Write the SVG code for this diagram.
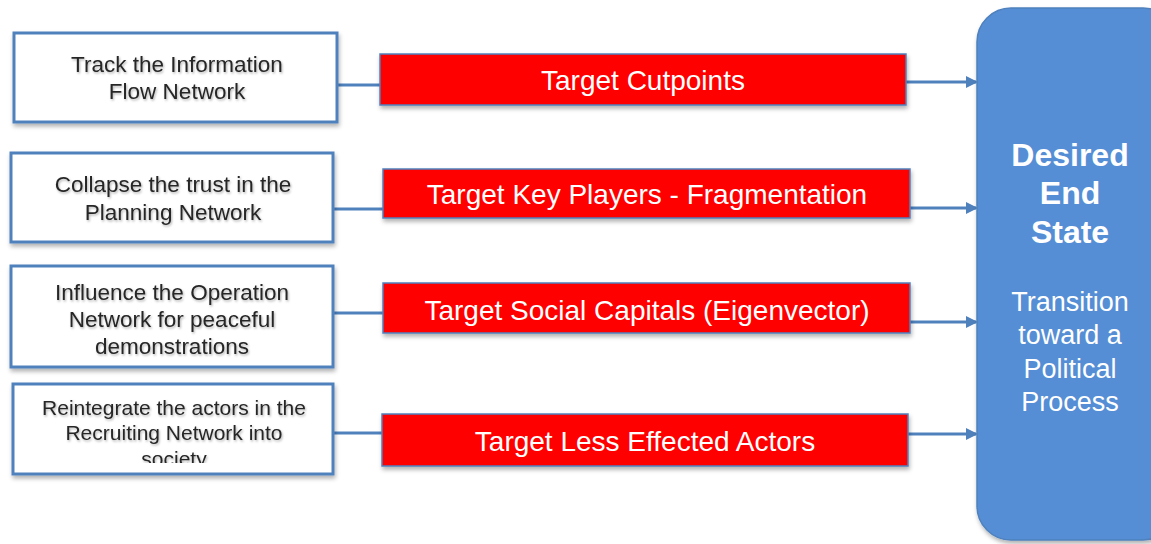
<svg xmlns="http://www.w3.org/2000/svg" width="1151" height="544" viewBox="0 0 1151 544">
<style>
.lbox{fill:#ffffff;stroke:#4f81bd;stroke-width:3}
.rbox{fill:#ff0000;stroke:#4f81bd;stroke-width:1.5}
.ltxt{font-family:"Liberation Sans",Arial,sans-serif;font-size:22.5px;fill:#262626;text-anchor:middle}
.rtxt{font-family:"Liberation Sans",Arial,sans-serif;font-size:28px;fill:#ffffff;text-anchor:middle}
.conn{stroke:#4f81bd;stroke-width:3;fill:none}
.big{font-family:"Liberation Sans",Arial,sans-serif;font-size:32px;font-weight:bold;fill:#ffffff;text-anchor:middle}
.sub{font-family:"Liberation Sans",Arial,sans-serif;font-size:27px;fill:#ffffff;text-anchor:middle}
</style>
<defs>
<filter id="sh" x="-10%" y="-10%" width="120%" height="130%">
<feDropShadow dx="1" dy="3" stdDeviation="2" flood-color="#000" flood-opacity="0.3"/>
</filter>
<filter id="tsh" x="-10%" y="-20%" width="120%" height="150%">
<feDropShadow dx="1" dy="1.5" stdDeviation="1" flood-color="#000" flood-opacity="0.3"/>
</filter>
<marker id="ah" markerWidth="12" markerHeight="12" refX="10" refY="6" orient="auto" markerUnits="userSpaceOnUse">
<path d="M0,0 L12,6 L0,12 Z" fill="#4f81bd"/>
</marker>
<clipPath id="c4"><rect x="14" y="385" width="318" height="78"/></clipPath>
</defs>
<rect width="1151" height="544" fill="#ffffff"/>
<g id="connectors">
<line class="conn" x1="337" y1="85" x2="380" y2="85"/>
<line class="conn" x1="333" y1="209" x2="383" y2="209"/>
<line class="conn" x1="333" y1="313" x2="383" y2="313"/>
<line class="conn" x1="333" y1="433" x2="382" y2="433"/>
<line class="conn" x1="906" y1="82" x2="976" y2="82" marker-end="url(#ah)"/>
<line class="conn" x1="910" y1="208" x2="976" y2="208" marker-end="url(#ah)"/>
<line class="conn" x1="910" y1="322" x2="976" y2="322" marker-end="url(#ah)"/>
<line class="conn" x1="908" y1="434" x2="976" y2="434" marker-end="url(#ah)"/>
</g>
<g id="n1">
<rect class="lbox" x="14" y="33" width="323" height="89" filter="url(#sh)"/>
<g filter="url(#tsh)"><text class="ltxt" x="177" y="72">Track the Information</text>
<text class="ltxt" x="177" y="99">Flow Network</text></g>
</g>
<g id="n2">
<rect class="lbox" x="11" y="153" width="322" height="89" filter="url(#sh)"/>
<g filter="url(#tsh)"><text class="ltxt" x="173" y="192">Collapse the trust in the</text>
<text class="ltxt" x="173" y="220">Planning Network</text></g>
</g>
<g id="n3">
<rect class="lbox" x="11" y="266" width="322" height="101" filter="url(#sh)"/>
<g filter="url(#tsh)"><text class="ltxt" x="172" y="300">Influence the Operation</text>
<text class="ltxt" x="172" y="327">Network for peaceful</text>
<text class="ltxt" x="172" y="354">demonstrations</text></g>
</g>
<g id="n4">
<rect class="lbox" x="13" y="384" width="320" height="90" filter="url(#sh)"/>
<g filter="url(#tsh)" clip-path="url(#c4)"><text class="ltxt" x="174" y="415" style="font-size:21px">Reintegrate the actors in the</text>
<text class="ltxt" x="174" y="440" style="font-size:21px">Recruiting Network into</text>
<text class="ltxt" x="174" y="466" style="font-size:21px">society</text></g>
</g>
<g id="r1">
<rect class="rbox" x="380" y="54" width="526" height="51" filter="url(#sh)"/>
<text class="rtxt" x="643" y="90">Target Cutpoints</text>
</g>
<g id="r2">
<rect class="rbox" x="383" y="169" width="527" height="49" filter="url(#sh)"/>
<text class="rtxt" x="647" y="204">Target Key Players - Fragmentation</text>
</g>
<g id="r3">
<rect class="rbox" x="383" y="283" width="527" height="50" filter="url(#sh)"/>
<text class="rtxt" x="647" y="320">Target Social Capitals (Eigenvector)</text>
</g>
<g id="r4">
<rect class="rbox" x="382" y="414" width="526" height="52" filter="url(#sh)"/>
<text class="rtxt" x="645" y="451">Target Less Effected Actors</text>
</g>
<g id="end">
<rect x="977" y="8" width="200" height="532" rx="34" ry="34" fill="#558ed5" stroke="#4f81bd" stroke-width="1.5" filter="url(#sh)"/>
<text class="big" x="1070" y="166">Desired</text>
<text class="big" x="1070" y="204">End</text>
<text class="big" x="1070" y="243">State</text>
<text class="sub" x="1070" y="311">Transition</text>
<text class="sub" x="1070" y="344">toward a</text>
<text class="sub" x="1070" y="378">Political</text>
<text class="sub" x="1070" y="411">Process</text>
</g>
</svg>
